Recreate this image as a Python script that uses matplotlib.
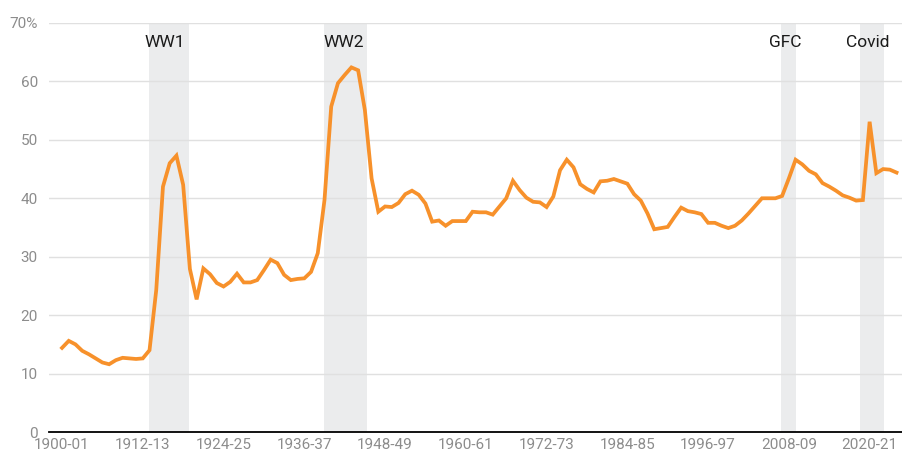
import matplotlib.pyplot as plt

plt.rcParams['font.family'] = ['Roboto', 'DejaVu Sans']

# financial years 1900-01 .. 2024-25 (start year)
years = list(range(1900, 2025))
share = [14.4, 15.6, 15.0, 13.9, 13.3, 12.6, 11.9, 11.6, 12.3, 12.7,
         12.6, 12.5, 12.6, 14.0, 24.3, 42.0, 46.0, 47.3, 42.3, 27.9,
         22.7, 28.0, 27.0, 25.5, 24.9, 25.7, 27.1, 25.6, 25.6, 26.0,
         27.7, 29.5, 28.9, 26.9, 26.0, 26.2, 26.3, 27.4, 30.6, 39.7,
         55.7, 59.7, 61.1, 62.4, 61.9, 55.1, 43.4, 37.7, 38.6, 38.5,
         39.2, 40.7, 41.3, 40.6, 39.1, 36.0, 36.2, 35.3, 36.1, 36.1,
         36.1, 37.7, 37.6, 37.6, 37.2, 38.6, 40.0, 43.0, 41.4, 40.1,
         39.4, 39.3, 38.5, 40.3, 44.8, 46.6, 45.3, 42.4, 41.6, 41.0,
         42.9, 43.0, 43.3, 42.9, 42.5, 40.7, 39.6, 37.4, 34.7, 34.9,
         35.1, 36.8, 38.4, 37.8, 37.6, 37.3, 35.8, 35.8, 35.3, 34.9,
         35.3, 36.2, 37.4, 38.7, 40.0, 40.0, 40.0, 40.4, 43.4, 46.6,
         45.8, 44.7, 44.1, 42.6, 42.0, 41.3, 40.5, 40.1, 39.6, 39.7,
         53.1, 44.3, 45.0, 44.9, 44.4]

tick_years = [1900, 1912, 1924, 1936, 1948, 1960, 1972, 1984, 1996, 2008, 2020]
tick_labels = ['1900-01', '1912-13', '1924-25', '1936-37', '1948-49', '1960-61',
               '1972-73', '1984-85', '1996-97', '2008-09', '2020-21']

event_names = ['WW1', 'WW2', 'GFC', 'Covid']
event_start = [1912.9, 1939.0, 2006.8, 2018.6]
event_end = [1918.9, 1945.3, 2009.0, 2022.1]
event_label_x = [1915.2, 1941.9, 2007.5, 2019.7]

fig = plt.figure(figsize=(9.03, 4.55), dpi=100)
ax = fig.add_axes([0.0543, 0.0505, 0.9457, 0.899])

for s, e in zip(event_start, event_end):
    ax.axvspan(s, e, color='#ebeced', lw=0, zorder=0)

ax.plot(years, share, color='#f7912b', lw=2.7, zorder=3, solid_joinstyle='miter')

for name, x in zip(event_names, event_label_x):
    ax.text(x, 66.6, name, ha='center', va='center', fontsize=12.5, color='#1a1a1a')

ax.set_xlim(1898.07, 2024.96)
ax.set_ylim(0, 70)
ax.set_yticks(range(0, 80, 10))
ax.set_yticklabels(['0', '10', '20', '30', '40', '50', '60', '70%'])
ax.set_xticks(tick_years)
ax.set_xticklabels(tick_labels)
ax.tick_params(length=0, labelsize=11, colors='#8c8c8c')
ax.tick_params(axis='y', pad=8)
ax.tick_params(axis='x', pad=4)

ax.grid(axis='y', color='#e0e0e0', lw=1)
ax.set_axisbelow(True)
for side in ['top', 'right', 'left']:
    ax.spines[side].set_visible(False)
ax.spines['bottom'].set_color('black')
ax.spines['bottom'].set_linewidth(1.3)
ax.spines['bottom'].set_zorder(4)

fig.savefig('out.png', dpi=100)
